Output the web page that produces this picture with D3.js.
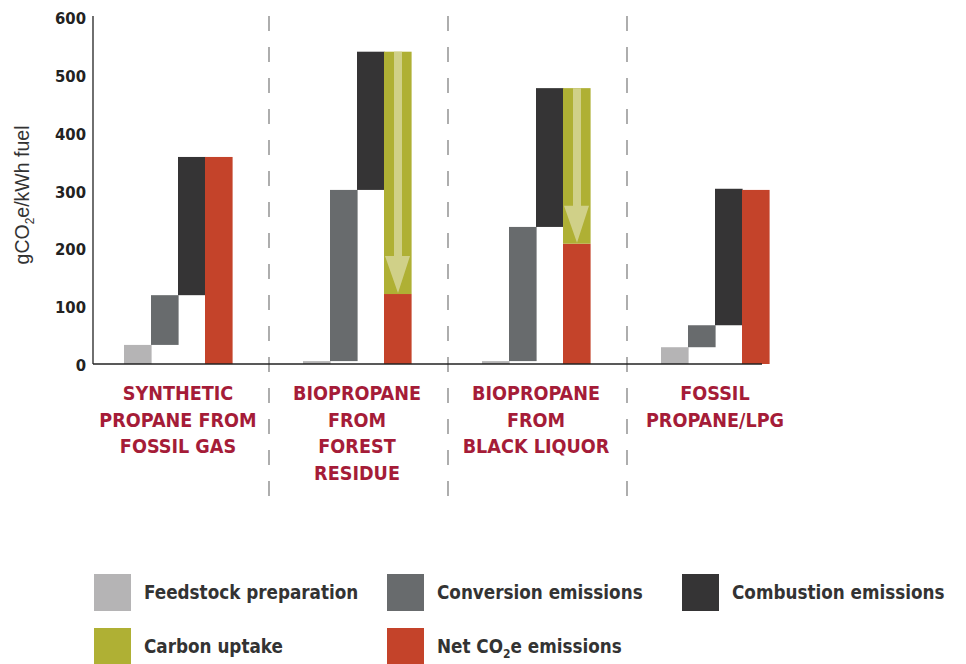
<!DOCTYPE html>
<html>
<head>
<meta charset="utf-8">
<script src="https://cdn.jsdelivr.net/npm/d3@7"></script>
<style>
  body { margin: 0; background: #fff; }
  svg { display: block; }
</style>
</head>
<body>
<div id="container"></div>
<script>
// data (gCO2e/kWh fuel)
var categories = ["synthetic", "forest", "liquor", "fossil"];
var categoryLabels = [
  ["SYNTHETIC", "PROPANE FROM", "FOSSIL GAS"],
  ["BIOPROPANE", "FROM", "FOREST", "RESIDUE"],
  ["BIOPROPANE", "FROM", "BLACK LIQUOR"],
  ["FOSSIL", "PROPANE/LPG"]
];
var feedstock = [33, 5, 5, 29];
var conversion = [86, 296, 232, 38];
var combustion = [239, 239, 240, 236];
var uptake = [0, 419, 269, 0];
var net = [358, 121, 208, 301];
var yTicks = [0, 100, 200, 300, 400, 500, 600];

var legendItems = [
  { key: "feed", label: "Feedstock preparation" },
  { key: "conv", label: "Conversion emissions" },
  { key: "comb", label: "Combustion emissions" },
  { key: "uptake", label: "Carbon uptake" },
  { key: "net", label: "Net CO|2|e emissions" }
];

var colors = {
  feed: "#b5b4b5",
  conv: "#686b6d",
  comb: "#353435",
  uptake: "#afb034",
  net: "#c4432a",
  arrow: "#d0d088"
};

var width = 966, height = 664;
var condensed = "'DejaVu Sans Condensed', 'DejaVu Sans', sans-serif";

var svg = d3.select('#container')
  .append('svg')
  .attr('width', width)
  .attr('height', height);

/*-------------------------------------------------------------------------------------*/
// scales
var x0 = d3.scaleBand()
  .domain(categories)
  .range([89, 805]);

var x1 = d3.scaleBand()
  .domain(["feed", "conv", "comb", "net"])
  .range([35, 143]);

var y = d3.scaleLinear()
  .domain([0, 600])
  .range([364, 17]);

// build floating segments from the arrays
var segs = [];
categories.forEach(function (c, i) {
  var a = feedstock[i], b = a + conversion[i], t = b + combustion[i];
  segs.push({ cat: c, slot: "feed", lo: 0, hi: a, color: colors.feed });
  segs.push({ cat: c, slot: "conv", lo: a, hi: b, color: colors.conv });
  segs.push({ cat: c, slot: "comb", lo: b, hi: t, color: colors.comb });
  segs.push({ cat: c, slot: "net", lo: 0, hi: net[i], color: colors.net });
  if (uptake[i] > 0) {
    segs.push({ cat: c, slot: "net", lo: t - uptake[i], hi: t, color: colors.uptake, arrow: true });
  }
});

/*-------------------------------------------------------------------------------------*/
// dashed separators between groups
svg.append('g')
  .selectAll('line')
  .data(categories.slice(1))
  .join('line')
  .attr('x1', d => x0(d) + 1)
  .attr('x2', d => x0(d) + 1)
  .attr('y1', 16)
  .attr('y2', 497)
  .attr('stroke', '#9a9a9a')
  .attr('stroke-width', 1.6)
  .attr('stroke-dasharray', '15,16');

/*-------------------------------------------------------------------------------------*/
// bars
var bars = svg.append('g');
bars.selectAll('rect')
  .data(segs)
  .join('rect')
  .attr('x', d => x0(d.cat) + x1(d.slot))
  .attr('width', x1.bandwidth() + 0.6)
  .attr('y', d => y(d.hi))
  .attr('height', d => y(d.lo) - y(d.hi))
  .attr('fill', d => d.color);

// arrows inside the carbon uptake bars
var arrows = segs.filter(d => d.arrow);
var headLen = 37;
bars.selectAll('path.arrow')
  .data(arrows)
  .join('path')
  .attr('class', 'arrow')
  .attr('fill', colors.arrow)
  .attr('d', d => {
    var bx = x0(d.cat) + x1(d.slot);
    var bw = x1.bandwidth();
    var cx = bx + bw / 2 + 0.5;
    var top = y(d.hi), tip = y(d.lo) - 1;
    var hs = tip - headLen;
    return "M" + (cx - 4) + "," + top + "L" + (cx + 4) + "," + top +
      "L" + (cx + 4) + "," + hs + "L" + (bx + bw - 1) + "," + hs +
      "L" + cx + "," + tip + "L" + (bx + 1) + "," + hs +
      "L" + (cx - 4) + "," + hs + "Z";
  });

/*-------------------------------------------------------------------------------------*/
// axes
svg.append('line')
  .attr('x1', 93).attr('x2', x0.range()[1] - 43)
  .attr('y1', y(0)).attr('y2', y(0))
  .attr('stroke', '#222').attr('stroke-width', 1.3);

var yAxis = svg.append('g')
  .attr('transform', 'translate(93,0)')
  .call(d3.axisLeft(y).tickValues(yTicks).tickSize(0).tickPadding(7));
yAxis.select('.domain')
  .attr('stroke', '#222')
  .attr('stroke-width', 1.3)
  .attr('d', 'M0,' + (y(600) - 1) + 'V' + y(0));
yAxis.selectAll('text')
  .attr('font-family', condensed)
  .attr('font-weight', 'bold')
  .attr('font-size', 16.5)
  .attr('fill', '#222')
  .attr('dy', '0.4em');

var yLabel = svg.append('text')
  .attr('transform', 'translate(29,195) rotate(-90)')
  .attr('text-anchor', 'middle')
  .attr('font-family', "'Liberation Sans', Arial, sans-serif")
  .attr('font-size', 19.5)
  .attr('fill', '#333');
yLabel.append('tspan').text('gCO');
yLabel.append('tspan').text('2').attr('font-size', 12).attr('dy', 5);
yLabel.append('tspan').text('e/kWh fuel').attr('dy', -5);

/*-------------------------------------------------------------------------------------*/
// category labels
svg.append('g')
  .selectAll('text')
  .data(categories)
  .join('text')
  .attr('text-anchor', 'middle')
  .attr('font-family', condensed)
  .attr('font-weight', 'bold')
  .attr('font-size', 19.6)
  .attr('fill', '#a51c38')
  .attr('x', d => x0(d) + x1.range()[0] + (x1.range()[1] - x1.range()[0]) / 2)
  .attr('y', 400)
  .each(function (d, i) {
    var t = d3.select(this);
    categoryLabels[i].forEach((line, j) => {
      t.append('tspan')
        .attr('x', t.attr('x'))
        .attr('y', 400 + j * 26.7)
        .text(line);
    });
  });

/*-------------------------------------------------------------------------------------*/
// legend
var legend = svg.append('g');
var colX = [94, 387, 682];
var rowY = [574, 628];
legendItems.forEach(function (it, i) {
  var lx = colX[i % 3], ly = rowY[Math.floor(i / 3)];
  legend.append('rect')
    .attr('x', lx).attr('y', ly)
    .attr('width', 37).attr('height', 37)
    .attr('fill', colors[it.key]);
  var t = legend.append('text')
    .attr('x', lx + 50).attr('y', ly + 25)
    .attr('font-family', condensed)
    .attr('font-weight', 'bold')
    .attr('font-size', 18.7)
    .attr('fill', '#333');
  var parts = it.label.split('|');
  t.append('tspan').text(parts[0]);
  if (parts.length > 1) {
    t.append('tspan').text(parts[1]).attr('font-size', 12).attr('dy', 5);
    t.append('tspan').text(parts[2]).attr('dy', -5);
  }
});
</script>
</body>
</html>
